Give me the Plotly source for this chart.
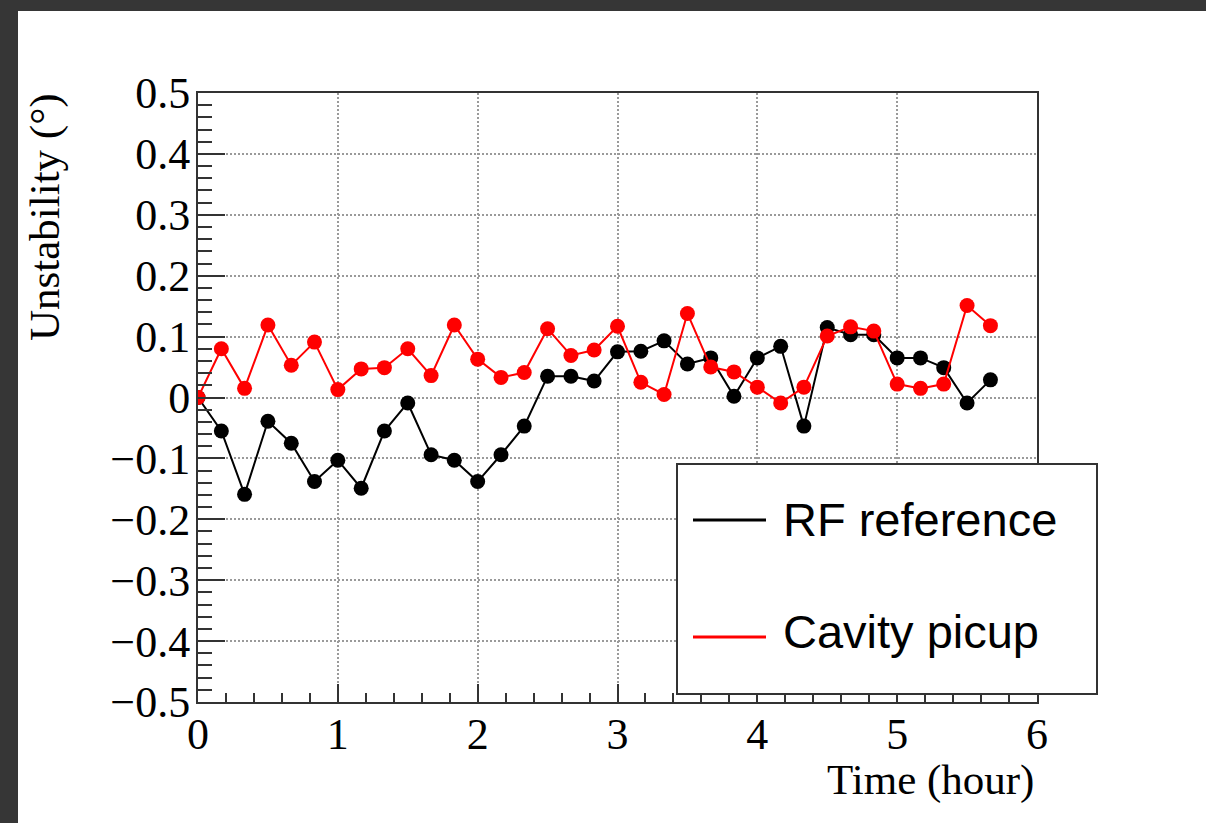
import plotly.graph_objects as go

# ---------------- data ----------------
time_hour = [0.0, 0.167, 0.333, 0.5, 0.667, 0.833, 1.0, 1.167, 1.333, 1.5, 1.667, 1.833,
             2.0, 2.167, 2.333, 2.5, 2.667, 2.833, 3.0, 3.167, 3.333, 3.5, 3.667, 3.833,
             4.0, 4.167, 4.333, 4.5, 4.667, 4.833, 5.0, 5.167, 5.333, 5.5, 5.667]

rf_reference = [0.0, -0.055, -0.159, -0.039, -0.075, -0.138, -0.103, -0.149, -0.055, -0.009,
                -0.094, -0.103, -0.138, -0.094, -0.047, 0.035, 0.035, 0.027, 0.075, 0.076,
                0.093, 0.055, 0.065, 0.002, 0.065, 0.084, -0.047, 0.115, 0.103, 0.103,
                0.065, 0.065, 0.049, -0.009, 0.029]

cavity_pickup = [0.0, 0.080, 0.015, 0.119, 0.053, 0.091, 0.013, 0.047, 0.049, 0.080,
                 0.036, 0.119, 0.063, 0.033, 0.041, 0.113, 0.069, 0.078, 0.117, 0.025,
                 0.005, 0.138, 0.050, 0.042, 0.017, -0.009, 0.017, 0.101, 0.116, 0.109,
                 0.022, 0.015, 0.022, 0.151, 0.118]

series_names = ["RF reference", "Cavity picup"]
series_colors = ["#000000", "#ff0000"]

x_tick_vals = [0, 1, 2, 3, 4, 5, 6]
x_tick_text = ["0", "1", "2", "3", "4", "5", "6"]
y_tick_vals = [-0.5, -0.4, -0.3, -0.2, -0.1, 0, 0.1, 0.2, 0.3, 0.4, 0.5]
y_tick_text = ["\u22120.5", "\u22120.4", "\u22120.3", "\u22120.2", "\u22120.1", "0",
               "0.1", "0.2", "0.3", "0.4", "0.5"]

x_title = "Time (hour)"
y_title = "Unstability (°)"

# ---------------- layout geometry ----------------
W, H = 1206, 823
L, R, T, B = 198, 169, 93, 121
PW, PH = W - L - R, H - T - B


def fx(p):
    return (p - L) / PW


def fy(p):
    return (H - B - p) / PH


SERIF = "Liberation Serif, Times New Roman, serif"
SANS = "Liberation Sans, Arial, Helvetica, sans-serif"
AXIS_COL = "#333333"

fig = go.Figure()
for name, vals, col in zip(series_names, [rf_reference, cavity_pickup], series_colors):
    fig.add_trace(go.Scatter(
        x=time_hour, y=vals, mode="lines+markers", name=name,
        line=dict(color=col, width=2),
        marker=dict(color=col, size=15, line=dict(width=0)),
        showlegend=False,
    ))

axis_common = dict(
    showline=True, linecolor=AXIS_COL, linewidth=2, mirror=True,
    ticks="inside", tickcolor=AXIS_COL, tickwidth=2,
    showgrid=True, gridcolor="#9a9a9a", gridwidth=2, griddash="2px,2px",
    zeroline=False, tickmode="array",
    tickfont=dict(family=SERIF, size=44, color="#000000"),
)

fig.update_xaxes(
    range=[0, 6], tickvals=x_tick_vals, ticktext=x_tick_text, ticklen=18,
    minor=dict(ticks="inside", ticklen=9, tickwidth=2, tickcolor=AXIS_COL,
               tickmode="linear", tick0=0, dtick=0.2, showgrid=False),
    ticklabelstandoff=-8,
    **axis_common,
)
fig.update_yaxes(
    range=[-0.5, 0.5], tickvals=y_tick_vals, ticktext=y_tick_text, ticklen=27,
    minor=dict(ticks="inside", ticklen=14, tickwidth=2, tickcolor=AXIS_COL,
               tickmode="linear", tick0=0, dtick=0.02, showgrid=False),
    ticklabelstandoff=-3,
    **axis_common,
)

shapes = [
    # white page on a dark frame
    dict(type="rect", xref="paper", yref="paper", layer="below",
         x0=fx(18), x1=fx(W + 20), y0=fy(H + 20), y1=fy(11),
         fillcolor="white", line=dict(width=0)),
    # legend box
    dict(type="rect", xref="paper", yref="paper", layer="above",
         x0=fx(677), x1=fx(1097), y0=fy(694), y1=fy(464),
         fillcolor="white", line=dict(color=AXIS_COL, width=2)),
]
legend_line_y = [520, 637]
legend_text_y = [519, 631]
for ry, col in zip(legend_line_y, series_colors):
    shapes.append(dict(type="line", xref="paper", yref="paper", layer="above",
                       x0=fx(693), x1=fx(766), y0=fy(ry), y1=fy(ry),
                       line=dict(color=col, width=3)))

annotations = []
for ty, name in zip(legend_text_y, series_names):
    annotations.append(dict(text=name, xref="paper", yref="paper",
                            x=fx(781), y=fy(ty), xanchor="left", yanchor="middle",
                            showarrow=False,
                            font=dict(family=SANS, size=47, color="#000000")))

annotations.append(dict(text=x_title, xref="paper", yref="paper",
                        x=fx(1036), y=fy(780), xanchor="right", yanchor="middle",
                        showarrow=False,
                        font=dict(family=SERIF, size=43, color="#000000")))
annotations.append(dict(text=y_title, xref="paper", yref="paper",
                        x=fx(45), y=fy(217), xanchor="center", yanchor="middle",
                        textangle=-90, showarrow=False,
                        font=dict(family=SERIF, size=43, color="#000000")))

fig.update_layout(
    width=W, height=H,
    margin=dict(l=L, r=R, t=T, b=B, pad=0),
    paper_bgcolor="#363636",
    plot_bgcolor="white",
    shapes=shapes,
    annotations=annotations,
    showlegend=False,
)

fig.write_html("out.html", config={"displayModeBar": False})
